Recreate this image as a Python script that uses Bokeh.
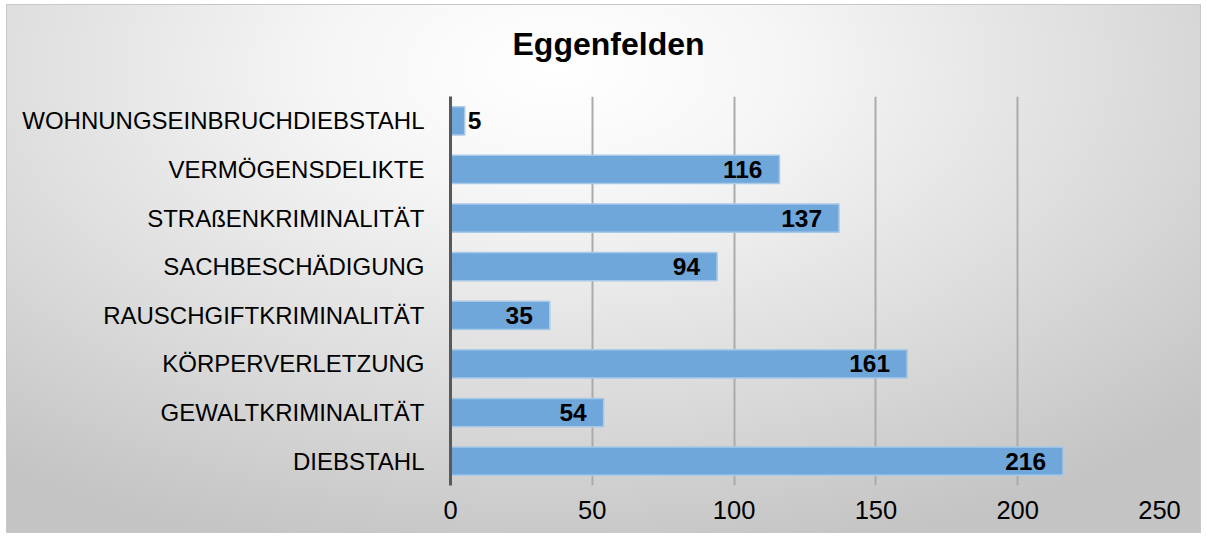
from bokeh.plotting import figure
from bokeh.models import ColumnDataSource, FactorRange, Title
from bokeh.core.properties import value
from bokeh.embed import file_html
from bokeh.resources import INLINE

# Data (top-to-bottom as shown in the chart)
categories = [
    "WOHNUNGSEINBRUCHDIEBSTAHL",
    "VERMÖGENSDELIKTE",
    "STRAßENKRIMINALITÄT",
    "SACHBESCHÄDIGUNG",
    "RAUSCHGIFTKRIMINALITÄT",
    "KÖRPERVERLETZUNG",
    "GEWALTKRIMINALITÄT",
    "DIEBSTAHL",
]
counts = [5, 116, 137, 94, 35, 161, 54, 216]
x_ticks = [0, 50, 100, 150, 200, 250]
title_text = "Eggenfelden"

FONT = "Liberation Sans"

cats_bottom_up = list(reversed(categories))

labels = [str(v) for v in counts]
aligns = ["left" if v < 20 else "right" for v in counts]
offsets = [3 if v < 20 else -17 for v in counts]
src = ColumnDataSource(dict(cat=categories, val=counts, lab=labels,
                            align=aligns, xoff=offsets))

W, H = 1193, 527
FL, FT, FW, FH = 443, 91, 709, 389

p = figure(
    width=W, height=H,
    y_range=FactorRange(*cats_bottom_up),
    x_range=(0, 250),
    output_backend="svg", toolbar_location=None,
    min_border_left=FL, min_border_right=W - FL - FW,
    min_border_top=FT, min_border_bottom=H - FT - FH,
    title=title_text,
)
p.styles = {
    "margin-left": "7px",
    "margin-top": "5px",
    "background-image": "radial-gradient(ellipse 75% 95% at 46% 12%, #ffffff 0%, #f6f6f6 25%, #dcdcdc 65%, #c4c4c4 100%)",
    "outline": "1px solid #c8c8c8",
}
p.border_fill_color = None
p.background_fill_color = None
p.outline_line_color = None

p.title.align = "left"
p.title.offset = 62
p.title.vertical_align = "top"
p.title.standoff = 10
p.title.text_font = FONT
p.title.text_font_style = "bold"
p.title.text_font_size = "32px"
p.title.text_color = "#000000"

# empty spacer between the title and the plot area
p.add_layout(Title(text=" ", text_font_size="1px", standoff=25), "above")

p.hbar(y="cat", right="val", left=0, height=0.58, source=src,
       fill_color="#70a7da", line_color="#a9c9e8", line_width=1.5)

p.text(x="val", y="cat", text="lab", source=src,
       text_align="align", x_offset="xoff", text_baseline="middle",
       text_font=value(FONT), text_font_style="bold",
       text_font_size="24.5px", text_color="#000000")

# axes
p.xaxis.ticker = x_ticks
p.xaxis.axis_line_color = None
p.xaxis.major_tick_line_color = None
p.xaxis.minor_tick_line_color = None
p.xaxis.major_label_standoff = 9
p.xaxis.major_label_text_font = FONT
p.xaxis.major_label_text_font_size = "25.5px"
p.xaxis.major_label_text_color = "#000000"

p.yaxis.axis_line_color = "#595959"
p.yaxis.axis_line_width = 3
p.yaxis.major_tick_line_color = None
p.yaxis.minor_tick_line_color = None
p.yaxis.major_label_standoff = 20
p.yaxis.major_label_text_font = FONT
p.yaxis.major_label_text_font_size = "24px"
p.yaxis.major_label_text_color = "#000000"

p.ygrid.grid_line_color = None
p.xgrid.grid_line_color = "#ababab"
p.xgrid.grid_line_width = 2

open("out.html", "w").write(file_html(p, INLINE))
